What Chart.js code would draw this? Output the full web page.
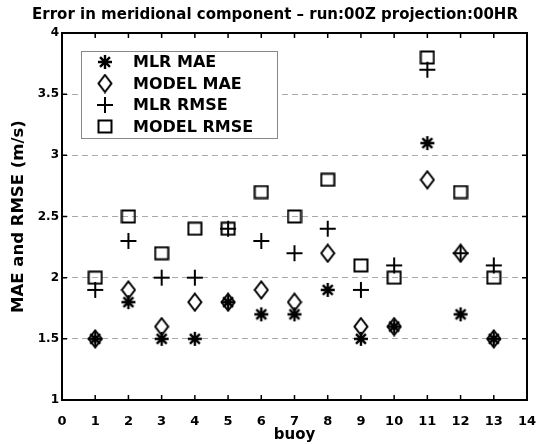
<!DOCTYPE html>
<html>
<head>
<meta charset="utf-8">
<script src="https://cdn.jsdelivr.net/npm/chart.js@4"></script>
<style>
  html, body { margin: 0; padding: 0; background: #fff; }
  #wrap { width: 550px; height: 444px; }
</style>
</head>
<body>
<div id="wrap"><canvas id="chart"></canvas></div>
<script>
// data
const buoys = [1, 2, 3, 4, 5, 6, 7, 8, 9, 10, 11, 12, 13];
const mlrMae = [1.5, 1.8, 1.5, 1.5, 1.8, 1.7, 1.7, 1.9, 1.5, 1.6, 3.1, 1.7, 1.5];
const modelMae = [1.5, 1.9, 1.6, 1.8, 1.8, 1.9, 1.8, 2.2, 1.6, 1.6, 2.8, 2.2, 1.5];
const mlrRmse = [1.9, 2.3, 2.0, 2.0, 2.4, 2.3, 2.2, 2.4, 1.9, 2.1, 3.7, 2.2, 2.1];
const modelRmse = [2.0, 2.5, 2.2, 2.4, 2.4, 2.7, 2.5, 2.8, 2.1, 2.0, 3.8, 2.7, 2.0];
const seriesNames = ["MLR MAE", "MODEL MAE", "MLR RMSE", "MODEL RMSE"];

const FONT = "'DejaVu Sans', Verdana, sans-serif";

// matlab-ish marker glyphs drawn on small canvases
function makeMarker(kind) {
  const c = document.createElement("canvas");
  let w = 16, h = 16;
  if (kind === "diamond") { w = 16; h = 20; }
  if (kind === "plus") { w = 18; h = 18; }
  if (kind === "square") { w = 16; h = 15; }
  c.width = w; c.height = h;
  const g = c.getContext("2d");
  g.strokeStyle = "#000";
  g.lineWidth = 2;
  g.beginPath();
  if (kind === "star") {
    g.lineWidth = 2.4;
    for (let k = 0; k < 4; k++) {
      const a = k * Math.PI / 4;
      g.moveTo(8 - 7 * Math.cos(a), 8 - 7 * Math.sin(a));
      g.lineTo(8 + 7 * Math.cos(a), 8 + 7 * Math.sin(a));
    }
  } else if (kind === "diamond") {
    g.moveTo(8, 1.5); g.lineTo(14.5, 10); g.lineTo(8, 18.5); g.lineTo(1.5, 10); g.closePath();
  } else if (kind === "plus") {
    g.moveTo(1, 9); g.lineTo(17, 9);
    g.moveTo(9, 1); g.lineTo(9, 17);
  } else {
    g.rect(1.5, 1.5, 13, 12);
  }
  g.stroke();
  return c;
}
const markers = [makeMarker("star"), makeMarker("diamond"), makeMarker("plus"), makeMarker("square")];
const seriesValues = [mlrMae, modelMae, mlrRmse, modelRmse];

const datasets = seriesNames.map((name, i) => ({
  label: name,
  data: buoys.map((b, j) => ({ x: b, y: seriesValues[i][j] })),
  pointStyle: markers[i],
  showLine: false,
  borderColor: "#000",
  backgroundColor: "#000"
}));

// box, inward ticks and legend in the matlab style
const boxPlugin = {
  id: "box",
  afterDraw(chart) {
    const { ctx, chartArea: a, scales } = chart;
    ctx.save();
    ctx.strokeStyle = "#000";
    ctx.lineWidth = 2;
    ctx.strokeRect(a.left, a.top, a.right - a.left, a.bottom - a.top);
    ctx.lineWidth = 1.5;
    ctx.beginPath();
    scales.x.ticks.forEach(t => {
      const px = scales.x.getPixelForValue(t.value);
      ctx.moveTo(px, a.bottom); ctx.lineTo(px, a.bottom - 5);
      ctx.moveTo(px, a.top); ctx.lineTo(px, a.top + 5);
    });
    scales.y.ticks.forEach(t => {
      const py = scales.y.getPixelForValue(t.value);
      ctx.moveTo(a.left, py); ctx.lineTo(a.left + 5, py);
      ctx.moveTo(a.right, py); ctx.lineTo(a.right - 5, py);
    });
    ctx.stroke();

    // legend
    const lx = 81, ly = 51, lw = 196, lh = 87;
    ctx.fillStyle = "#fff";
    ctx.fillRect(lx, ly, lw, lh);
    ctx.strokeStyle = "#888";
    ctx.lineWidth = 1;
    ctx.strokeRect(lx + 0.5, ly + 0.5, lw, lh);
    ctx.font = "bold 16px " + FONT;
    ctx.fillStyle = "#000";
    ctx.textBaseline = "middle";
    chart.data.datasets.forEach((ds, i) => {
      const y = 62 + i * 21.5;
      const m = ds.pointStyle;
      ctx.drawImage(m, 105 - m.width / 2, y - m.height / 2);
      ctx.fillText(ds.label, 133, y + 1);
    });
    ctx.restore();
  }
};

new Chart(document.getElementById("chart"), {
  type: "scatter",
  data: { datasets },
  options: {
    responsive: true,
    maintainAspectRatio: false,
    animation: false,
    layout: { padding: 0 },
    plugins: {
      legend: { display: false },
      tooltip: { enabled: false },
      title: {
        display: true,
        text: "Error in meridional component \u2013 run:00Z projection:00HR",
        color: "#000",
        font: { family: FONT, size: 15, weight: "bold" },
        padding: { top: 6, bottom: 9 }
      }
    },
    elements: { point: { radius: 8 } },
    scales: {
      x: {
        type: "linear",
        min: 0, max: 14,
        grid: { display: false },
        border: { display: false },
        ticks: { stepSize: 1, color: "#000", padding: 6, font: { family: FONT, size: 13, weight: "bold" } },
        title: { display: true, text: "buoy", color: "#000", padding: { top: 0, bottom: 0 }, font: { family: FONT, size: 15, weight: "bold" } },
        afterFit(s) { s.height = 44; }
      },
      y: {
        min: 1, max: 4,
        grid: {
          drawTicks: false,
          color: ctx => (ctx.tick && (ctx.tick.value === 1 || ctx.tick.value === 4)) ? "rgba(0,0,0,0)" : "#aaa",
          lineWidth: 1
        },
        border: { display: false, dash: [6, 4] },
        ticks: {
          stepSize: 0.5, color: "#000", padding: 3,
          font: { family: FONT, size: 12, weight: "bold" },
          callback: v => String(v)
        },
        title: { display: true, text: "MAE and RMSE (m/s)", color: "#000", padding: { top: 9, bottom: 0 }, font: { family: FONT, size: 16.5, weight: "bold" } },
        afterFit(s) { s.width = 62; }
      },
      // empty right-hand strip so the plot box ends where the reference's does
      yRight: {
        position: "right",
        min: 1, max: 4,
        grid: { display: false },
        border: { display: false },
        ticks: { display: false },
        afterFit(s) { s.width = 23; }
      }
    }
  },
  plugins: [boxPlugin]
});
</script>
</body>
</html>
